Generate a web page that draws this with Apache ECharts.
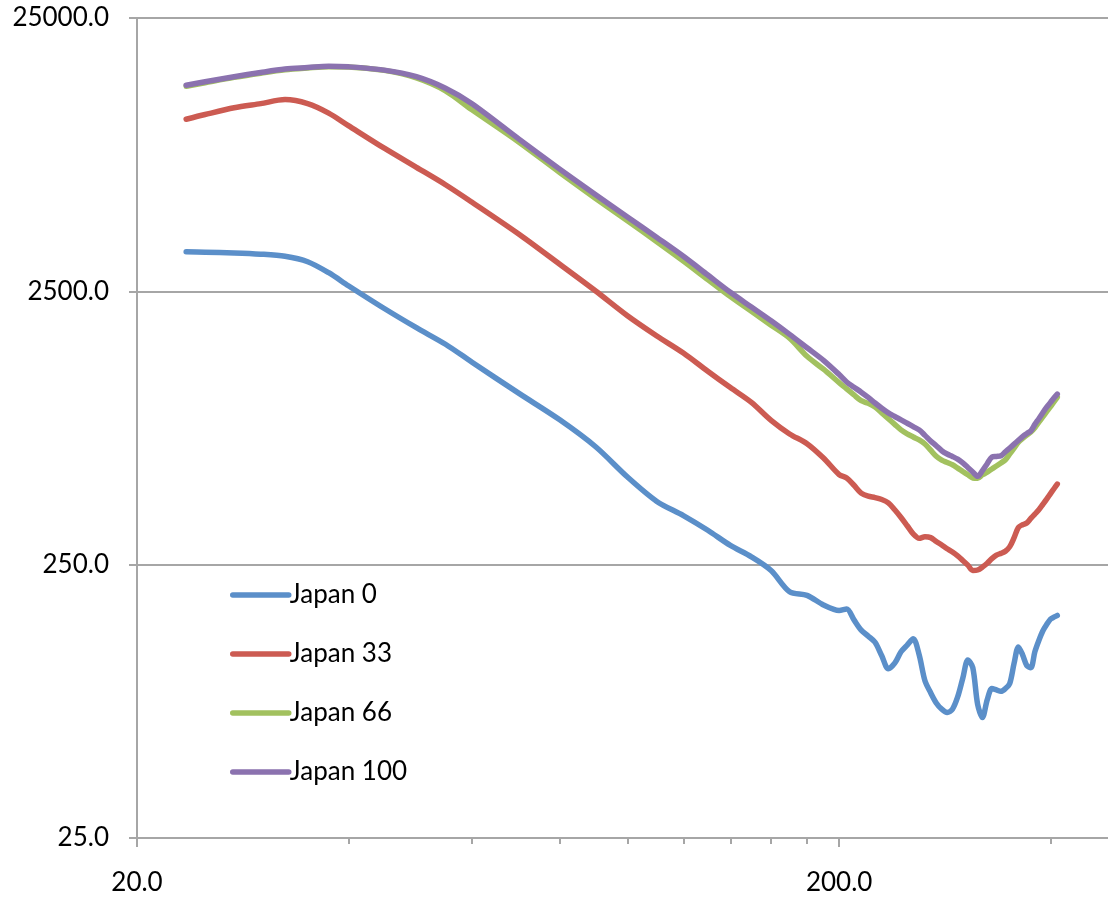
<!DOCTYPE html>
<html>
<head>
<meta charset="utf-8">
<script src="https://cdn.jsdelivr.net/npm/echarts@6/dist/echarts.min.js"></script>
<style>
html, body { margin: 0; padding: 0; background: #fff; }
#chart { width: 1108px; height: 899px; }
</style>
</head>
<body>
<div id="chart"></div>
<script>
// x values shared by the four curves
var freq = [23.5, 25, 27.5, 30, 32.5, 35, 37.5, 40, 45, 50, 55, 60, 70, 80, 90, 100,
    110, 120, 130, 140, 150, 160, 170, 180, 190, 200, 205, 210, 215, 220, 225, 230,
    235, 240, 245, 250, 255, 260, 265, 270, 275, 280, 285, 290, 295, 300, 305, 310,
    315, 320, 325, 330, 335, 340, 345, 350, 355, 360, 365, 370, 375, 380, 385, 390,
    395, 400, 405, 409];

var japan0 = [3490, 3475, 3455, 3420, 3358, 3208, 2924, 2621, 2163, 1840, 1601, 1376, 1058, 847, 675, 522,
    426, 378, 334, 294, 267, 238, 199, 193, 178, 170, 172, 157, 144, 137, 130, 116,
    104, 109, 120, 127, 134, 117, 94, 85, 78, 74, 72, 74, 82, 96, 112, 105,
    77, 69, 80, 88, 87, 86, 88, 92, 109, 125, 117, 107, 105, 120, 132, 143,
    151, 158, 161, 163];

var japan33 = [10657, 11088, 11732, 12154, 12571, 12154, 11219, 10098, 8347, 7106, 6137, 5296, 4045, 3141, 2508, 2032,
    1717, 1487, 1275, 1111, 981, 843, 752, 693, 614, 534, 519, 488, 457, 445, 440, 433,
    421, 397, 372, 347, 324, 312, 316, 314, 304, 295, 286, 278, 269, 259, 249, 238,
    239, 245, 253, 263, 271, 275, 280, 291, 314, 342, 350, 355, 369, 383, 397, 415,
    434, 455, 476, 493];

var japan66 = [14073, 14494, 15156, 15702, 16158, 16406, 16586, 16559, 16077, 15080, 13538, 11536, 8780, 6802, 5469, 4524,
    3797, 3227, 2761, 2391, 2112, 1880, 1684, 1447, 1297, 1159, 1100, 1044, 995, 973, 944, 897,
    855, 815, 778, 752, 733, 715, 691, 656, 623, 603, 591, 580, 564, 548, 533, 519,
    518, 533, 545, 560, 574, 589, 605, 636, 667, 701, 724, 744, 765, 793, 830, 868,
    907, 947, 990, 1024];

var japan100 = [14193, 14605, 15246, 15795, 16254, 16461, 16656, 16572, 16118, 15246, 13838, 12144, 9012, 7000, 5642, 4667,
    3934, 3358, 2868, 2479, 2190, 1950, 1739, 1554, 1397, 1240, 1165, 1115, 1069, 1023, 976, 934,
    898, 871, 847, 823, 800, 778, 743, 709, 681, 653, 635, 622, 608, 589, 567, 546,
    526, 552, 585, 619, 622, 626, 647, 668, 690, 712, 735, 754, 772, 815, 855, 899,
    942, 981, 1022, 1052];

var seriesNames = ['Japan 0', 'Japan 33', 'Japan 66', 'Japan 100'];
var seriesValues = [japan0, japan33, japan66, japan100];
var colors = ['#5b8fc9', '#cc5b52', '#a2c15f', '#8b72af'];

var xMajorTicks = [20, 200];
var xMinorTicks = [40, 60, 80, 100, 120, 140, 160, 180, 400];
var yTicks = [25, 250, 2500, 25000];

var FONT = 'Lato';
var axisGrey = '#a6a6a6';

var myChart = echarts.init(document.getElementById('chart'));

function pairs(values) {
    var out = [];
    for (var i = 0; i < freq.length; i++) {
        out.push([freq[i], values[i]]);
    }
    return out;
}

var series = [];
for (var i = 0; i < seriesNames.length; i++) {
    series.push({
        name: seriesNames[i],
        type: 'line',
        xAxisIndex: 0,
        smooth: 0.3,
        symbol: 'none',
        data: pairs(seriesValues[i]),
        lineStyle: { width: 5.5, color: colors[i], cap: 'round', join: 'round' },
        itemStyle: { color: colors[i] }
    });
}

var option = {
    animation: false,
    color: colors,
    grid: { left: 137, top: 18, right: 0, bottom: 61, containLabel: false },
    legend: {
        orient: 'vertical',
        left: 230,
        top: 576,
        padding: 0,
        itemGap: 21,
        itemWidth: 56,
        itemHeight: 5,
        data: seriesNames,
        lineStyle: { width: 5.5, cap: 'round' },
        textStyle: { fontFamily: FONT, fontSize: 26, color: '#000', lineHeight: 30, padding: [8, 0, 0, -4] }
    },
    xAxis: [
        {
            type: 'log',
            logBase: 10,
            min: 20,
            max: 483,
            axisLine: { show: true, lineStyle: { color: axisGrey, width: 2 } },
            axisTick: { show: true, length: 9, customValues: xMajorTicks, lineStyle: { color: axisGrey, width: 2 } },
            axisLabel: {
                customValues: xMajorTicks,
                margin: 32,
                fontFamily: FONT, fontSize: 26, color: '#000',
                formatter: function (v) { return Number(v).toFixed(1); }
            },
            splitLine: { show: false },
            minorTick: { show: false }
        },
        {
            type: 'log',
            logBase: 10,
            min: 20,
            max: 483,
            position: 'bottom',
            axisLine: { show: false },
            axisTick: { show: true, length: 6, customValues: xMinorTicks, lineStyle: { color: axisGrey, width: 2 } },
            axisLabel: { show: false },
            splitLine: { show: false }
        }
    ],
    yAxis: {
        type: 'log',
        logBase: 10,
        min: 25,
        max: 25000,
        axisLine: { show: true, lineStyle: { color: axisGrey, width: 2 } },
        axisTick: { show: true, length: 8, customValues: yTicks, lineStyle: { color: axisGrey, width: 2 } },
        axisLabel: {
            customValues: yTicks,
            margin: 28,
            lineHeight: 30,
            padding: [6, 0, 0, 0],
            fontFamily: FONT, fontSize: 26, color: '#000',
            formatter: function (v) { return Number(v).toFixed(1); }
        },
        splitLine: { show: true, lineStyle: { color: axisGrey, width: 2 } }
    },
    series: series
};

myChart.setOption(option);
</script>
</body>
</html>
